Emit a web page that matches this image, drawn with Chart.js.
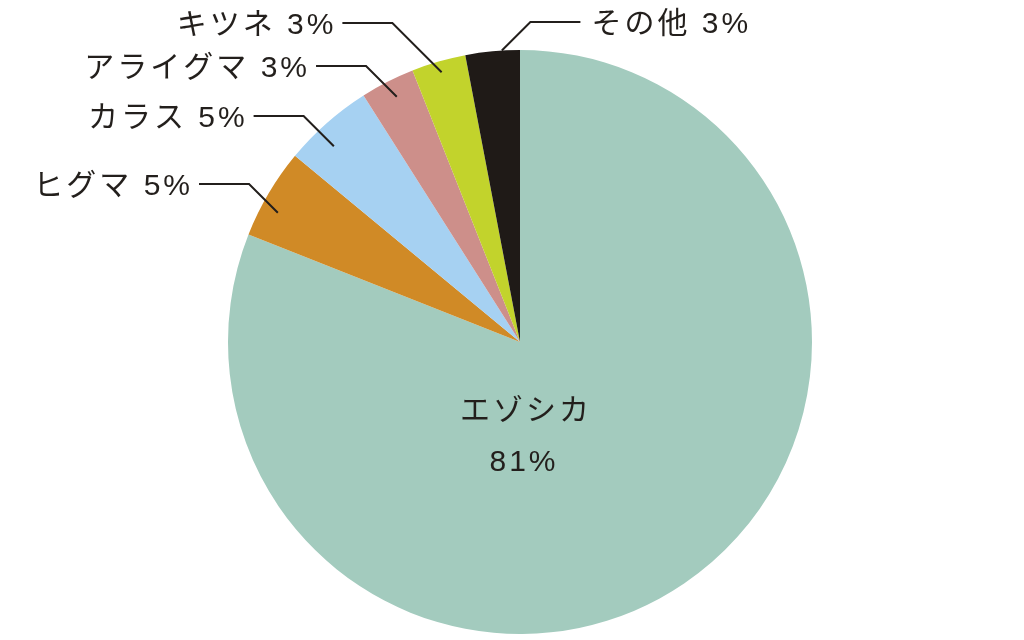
<!DOCTYPE html>
<html lang="ja">
<head>
<meta charset="utf-8">
<title>被害割合</title>
<script src="https://cdn.jsdelivr.net/npm/chart.js@4"></script>
<style>
  html, body { margin: 0; padding: 0; background: #fff; }
  #wrap { width: 1024px; height: 640px; position: relative; }
</style>
</head>
<body>
<div id="wrap"><canvas id="pieChart"></canvas></div>
<script>
// data
const categories = ['エゾシカ', 'ヒグマ', 'カラス', 'アライグマ', 'キツネ', 'その他'];
const shares = [81, 5, 5, 3, 3, 3];
const sliceColors = ['#a3cbbe', '#d08a26', '#a6d1f2', '#cd8f8a', '#c2d32c', '#1f1a17'];

// leader-line layout for the small slices (index 1..5)
const leaderY = [null, 184, 116, 66, 23, 22];
const leaderAt = [null, 0.36, 0.38, 0.53, 0.5, 0.67];      // where along the slice the line starts
const leaderRadius = [null, 0.94, 0.925, 0.94, 0.962, 1.0];
const leaderSide = [null, 'left', 'left', 'left', 'left', 'right'];

const textColor = '#231f1c';
const labelFont = '30px "Liberation Sans", "Noto Sans CJK JP", sans-serif';

const pieLabels = {
  id: 'pieLabels',
  afterDraw(chart) {
    const ctx = chart.ctx;
    const arcs = chart.getDatasetMeta(0).data;
    ctx.save();
    ctx.font = labelFont;
    ctx.fillStyle = textColor;
    ctx.strokeStyle = textColor;
    ctx.lineWidth = 2;
    if ('letterSpacing' in ctx) ctx.letterSpacing = '3px';

    arcs.forEach((arc, i) => {
      const { x, y, startAngle, endAngle, outerRadius } =
        arc.getProps(['x', 'y', 'startAngle', 'endAngle', 'outerRadius'], true);
      const text = categories[i] + ' ' + shares[i] + '%';

      if (i === 0) {
        // big slice: label inside
        ctx.textAlign = 'center';
        ctx.textBaseline = 'alphabetic';
        ctx.fillText(categories[i], x + 6, y + 78);
        ctx.fillText(shares[i] + '%', x + 4, y + 129);
        return;
      }

      const a = startAngle + (endAngle - startAngle) * leaderAt[i];
      const r = outerRadius * leaderRadius[i];
      const ex = x + Math.cos(a) * r;
      const ey = y + Math.sin(a) * r;
      const ly = leaderY[i];
      const dir = leaderSide[i] === 'left' ? -1 : 1;
      const bx = ex + dir * (ey - ly);
      const hx = bx + dir * 50;

      ctx.beginPath();
      ctx.moveTo(ex, ey);
      ctx.lineTo(bx, ly);
      ctx.lineTo(hx, ly);
      ctx.stroke();

      ctx.textBaseline = 'alphabetic';
      ctx.textAlign = 'left';
      if (dir < 0) {
        const w = ctx.measureText(text).width;
        ctx.fillText(text, hx - 6 - w, ly + 11);
      } else {
        ctx.fillText(text, hx + 11, ly + 11);
      }
    });
    ctx.restore();
  }
};

new Chart(document.getElementById('pieChart').getContext('2d'), {
  type: 'pie',
  data: {
    labels: categories,
    datasets: [{
      data: shares,
      backgroundColor: sliceColors,
      borderWidth: 0,
      hoverOffset: 0
    }]
  },
  options: {
    responsive: true,
    maintainAspectRatio: false,
    animation: false,
    layout: {
      padding: { left: 228, right: 212, top: 50, bottom: 6 }
    },
    plugins: {
      legend: { display: false },
      tooltip: { enabled: false }
    }
  },
  plugins: [pieLabels]
});
</script>
</body>
</html>
